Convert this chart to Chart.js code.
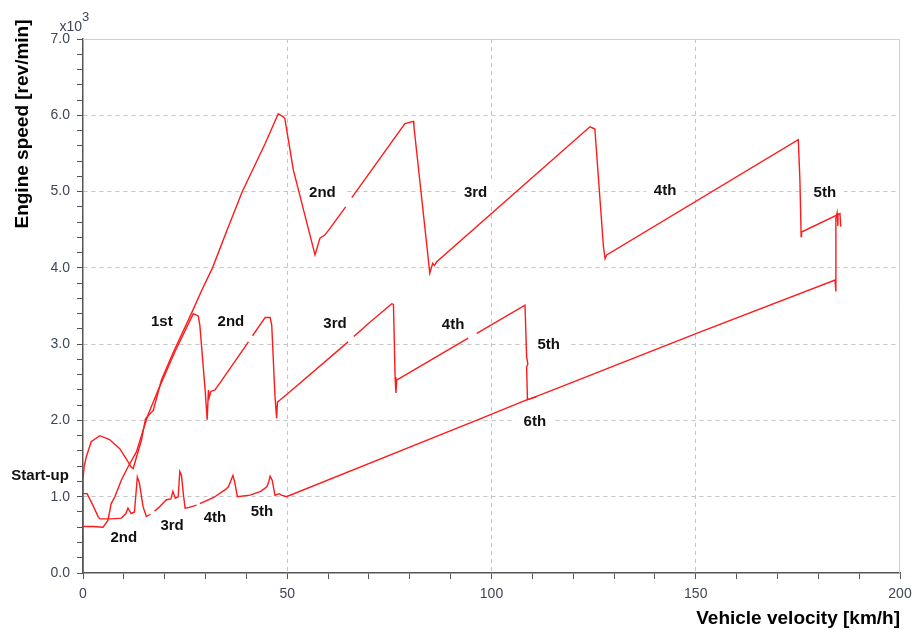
<!DOCTYPE html>
<html>
<head>
<meta charset="utf-8">
<script src="https://cdn.jsdelivr.net/npm/chart.js@4/dist/chart.umd.min.js"></script>
<style>
  html, body { margin: 0; padding: 0; background: #fff; }
</style>
</head>
<body>
<canvas id="chart" width="912" height="630"></canvas>
<script>
// Engine speed vs vehicle velocity, three acceleration runs (rpm in thousands).
const xMajor = [0, 50, 100, 150, 200];
const yMajor = [0, 1, 2, 3, 4, 5, 6, 7];

// full throttle run: [km/h, rpm x1000], null = gap in trace
const fullRun = [
  [0, 0], [0, 1.24], [0.3, 1.4], [0.8, 1.52], [2.0, 1.72], [4.1, 1.8], [6.5, 1.75], [9.0, 1.63],
  [11.0, 1.46], [11.8, 1.39], [12.3, 1.37], [13.1, 1.52], [14.3, 1.74], [15.3, 2.02], [16.3, 2.08],
  [17.2, 2.13], [19.2, 2.53], [22.0, 2.88], [26.6, 3.41], [29.1, 3.71], [31.7, 4.0], [35.3, 4.5],
  [39.0, 5.0], [44.6, 5.63], [47.8, 6.02], [49.0, 5.98], [49.4, 5.96], [51.5, 5.28], [56.8, 4.17],
  [58.0, 4.39], [59.2, 4.43], [60.5, 4.52], [64.3, 4.8], [64.9, null], [65.8, 4.92], [78.8, 5.89],
  [80.9, 5.92], [81.0, 5.86], [84.9, 3.93], [85.6, 4.06], [86.0, 4.03], [86.6, 4.08], [124.1, 5.85],
  [124.9, 5.83], [125.3, 5.82], [127.4, 4.28], [127.8, 4.12], [128.2, 4.17], [175.1, 5.68],
  [175.5, 5.15], [175.8, 4.41], [175.9, 4.47], [185.3, 4.71], [185.5, 4.54]
];

// medium throttle run
const midRun = [
  [0, 0.61], [2.5, 0.61], [4.9, 0.6], [6.1, 0.69], [6.9, 0.91], [7.8, 1.0], [9.4, 1.22], [11.0, 1.39],
  [13.1, 1.59], [14.7, 1.87], [15.9, 2.07], [18.4, 2.4], [22.5, 2.9], [27.0, 3.4], [28.2, 3.37],
  [28.6, 3.25], [29.9, 2.4], [30.4, 2.01], [30.7, 2.4], [30.9, 2.3], [31.3, 2.38], [32.3, 2.4],
  [33.5, 2.49], [40.5, 3.03], [41.0, null], [41.5, 3.11], [44.6, 3.35], [45.8, 3.35], [46.2, 3.25],
  [47.0, 2.31], [47.4, 2.03], [47.6, 2.24], [48.3, 2.27], [50.3, 2.36], [64.9, 3.03], [65.4, null],
  [66.3, 3.1], [70.3, 3.29], [75.6, 3.53], [76.0, 3.52], [76.4, 2.57], [76.6, 2.36], [76.8, 2.53],
  [77.5, 2.55], [94.3, 3.08], [95.3, null], [96.4, 3.14], [108.2, 3.51], [108.6, 2.83], [108.9, 2.74],
  [108.6, 2.7], [108.8, 2.27], [115.1, 2.4], [150.2, 3.14], [184.1, 3.84], [184.3, 3.69],
  [184.3, 4.65], [184.6, 4.72], [184.8, 4.55]
];

// low throttle run (start-up, then gears 2..6)
const lowRun = [
  [0, 1.04], [1.0, 1.04], [2.4, 0.89], [3.7, 0.74], [4.1, 0.71], [6.9, 0.71], [9.4, 0.72], [10.5, 0.78],
  [11.0, 0.85], [11.8, 0.78], [12.6, 0.8], [13.3, 1.26], [13.8, 1.18], [14.7, 0.87], [15.5, 0.74],
  [16.5, 0.77], [17.0, null], [17.5, 0.81], [18.4, 0.85], [20.4, 0.96], [21.5, 0.97], [22.0, 1.07],
  [22.6, 0.98], [23.3, 1.0], [23.7, 1.33], [24.1, 1.28], [24.6, 1.02], [25.0, 0.85], [26.0, 0.86],
  [27.8, 0.89], [28.2, null], [28.6, 0.91], [32.0, 0.99], [35.0, 1.1], [35.6, 1.13], [36.4, 1.24],
  [36.7, 1.28], [37.1, 1.2], [37.8, 1.0], [40.9, 1.02], [43.5, 1.07], [45.0, 1.13], [45.5, 1.2],
  [45.8, 1.27], [46.3, 1.22], [47.0, 1.02], [48.0, 1.04], [48.6, 1.02], [49.8, 1.0], [97.2, 2.02],
  [108.6, 2.27], [111.0, 2.31]
];

// gear annotations: [text, km/h, rpm x1000]
const gearLabels = [
  ['Start-up', -10.5, 1.28],
  ['2nd', 10.0, 0.47], ['3rd', 21.8, 0.63], ['4th', 32.3, 0.73], ['5th', 43.8, 0.81],
  ['1st', 19.3, 3.3], ['2nd', 36.2, 3.3], ['3rd', 61.7, 3.28], ['4th', 90.6, 3.26], ['5th', 114.0, 3.0],
  ['6th', 110.6, 2.0],
  ['2nd', 58.6, 5.0], ['3rd', 96.1, 5.0], ['4th', 142.5, 5.02], ['5th', 181.6, 5.0]
];

const RED = '#ff1a1a';
const TICK = '#3d4757';
const LABEL_FONT = 'bold 15px "Liberation Sans", Arial, sans-serif';
const pts = (arr) => arr.map(([x, y]) => ({ x, y }));
const isMajor = (v, list) => list.some((m) => Math.abs(m - v) < 1e-6);

const line = (label, arr) => ({
  label, data: pts(arr), borderColor: RED, backgroundColor: RED,
  borderWidth: 1.4, pointRadius: 0, tension: 0, spanGaps: false
});

const annotate = {
  id: 'annotate',
  beforeDatasetsDraw(chart) {
    const { ctx, chartArea: a, scales: { x, y } } = chart;
    ctx.save();
    // light frame on top and right
    ctx.strokeStyle = '#cfcfcf'; ctx.lineWidth = 1;
    ctx.beginPath();
    ctx.moveTo(a.left, a.top + 0.5); ctx.lineTo(a.right - 0.5, a.top + 0.5); ctx.lineTo(a.right - 0.5, a.bottom);
    ctx.stroke();
    // label backgrounds hide grid
    ctx.font = LABEL_FONT; ctx.fillStyle = '#fff';
    for (const [t, vx, vy] of gearLabels) {
      if (vx < 0) continue;
      const w = ctx.measureText(t).width;
      ctx.fillRect(x.getPixelForValue(vx) - w / 2 - 8, y.getPixelForValue(vy) - 9, w + 16, 18);
    }
    ctx.restore();
  },
  afterDatasetsDraw(chart) {
    const { ctx, scales: { x, y } } = chart;
    ctx.save();
    ctx.font = LABEL_FONT; ctx.fillStyle = '#111';
    ctx.textAlign = 'center'; ctx.textBaseline = 'middle';
    for (const [t, vx, vy] of gearLabels) ctx.fillText(t, x.getPixelForValue(vx), y.getPixelForValue(vy) + 1);
    ctx.restore();
  },
  afterDraw(chart) {
    const { ctx, chartArea: a } = chart;
    ctx.save();
    // y-axis title
    ctx.translate(23, 124); ctx.rotate(-Math.PI / 2);
    ctx.font = 'bold 19px "Liberation Sans", Arial, sans-serif'; ctx.fillStyle = '#000';
    ctx.textAlign = 'center'; ctx.textBaseline = 'middle';
    ctx.fillText('Engine speed [rev/min]', 0, 0);
    ctx.restore();
    ctx.save();
    ctx.fillStyle = TICK; ctx.textBaseline = 'alphabetic';
    ctx.font = '14px "Liberation Sans", Arial, sans-serif'; ctx.textAlign = 'right';
    ctx.fillText('x10', a.left - 1, 31);
    ctx.font = '13px "Liberation Sans", Arial, sans-serif'; ctx.textAlign = 'left';
    ctx.fillText('3', a.left - 1, 21);
    ctx.restore();
  }
};

new Chart(document.getElementById('chart'), {
  type: 'line',
  data: { datasets: [line('full', fullRun), line('mid', midRun), line('low', lowRun)] },
  options: {
    responsive: false, animation: false, devicePixelRatio: 1,
    layout: { padding: { top: 39, right: 12, left: 0, bottom: 0 } },
    plugins: { legend: { display: false }, tooltip: { enabled: false } },
    scales: {
      x: {
        type: 'linear', min: 0, max: 200,
        afterFit: (s) => { s.height = 57; s.paddingLeft = 0; s.paddingRight = 0; },
        ticks: {
          stepSize: 10, autoSkip: false, maxRotation: 0, padding: 7, color: TICK,
          font: { size: 14, family: '"Liberation Sans", Arial, sans-serif' },
          callback: (v) => (isMajor(v, xMajor) ? String(v) : '')
        },
        grid: {
          color: (c) => (isMajor(c.tick.value, xMajor) && c.tick.value > 0 && c.tick.value < 200 ? '#c4c4c4' : 'rgba(0,0,0,0)'),
          tickColor: '#555', tickLength: 6, lineWidth: 1
        },
        border: { color: '#555', width: 1.5, dash: [4, 4] },
        title: {
          display: true, text: 'Vehicle velocity [km/h]', align: 'end', color: '#000',
          font: { size: 19, weight: 'bold', family: '"Liberation Sans", Arial, sans-serif' },
          padding: { top: 0, bottom: 0 }
        }
      },
      y: {
        type: 'linear', min: 0, max: 7,
        afterFit: (s) => { s.width = 83; s.paddingTop = 0; s.paddingBottom = 0; },
        ticks: {
          stepSize: 0.2, autoSkip: false, padding: 7, color: TICK,
          font: { size: 14, family: '"Liberation Sans", Arial, sans-serif' },
          callback: (v) => (isMajor(v, yMajor) ? v.toFixed(1) : '')
        },
        grid: {
          color: (c) => (isMajor(c.tick.value, yMajor) && c.tick.value > 0 && c.tick.value < 7 ? '#c4c4c4' : 'rgba(0,0,0,0)'),
          tickColor: '#555', tickLength: 6, lineWidth: 1
        },
        border: { color: '#555', width: 1.5, dash: [4, 4] }
      }
    }
  },
  plugins: [annotate]
});
</script>
</body>
</html>
